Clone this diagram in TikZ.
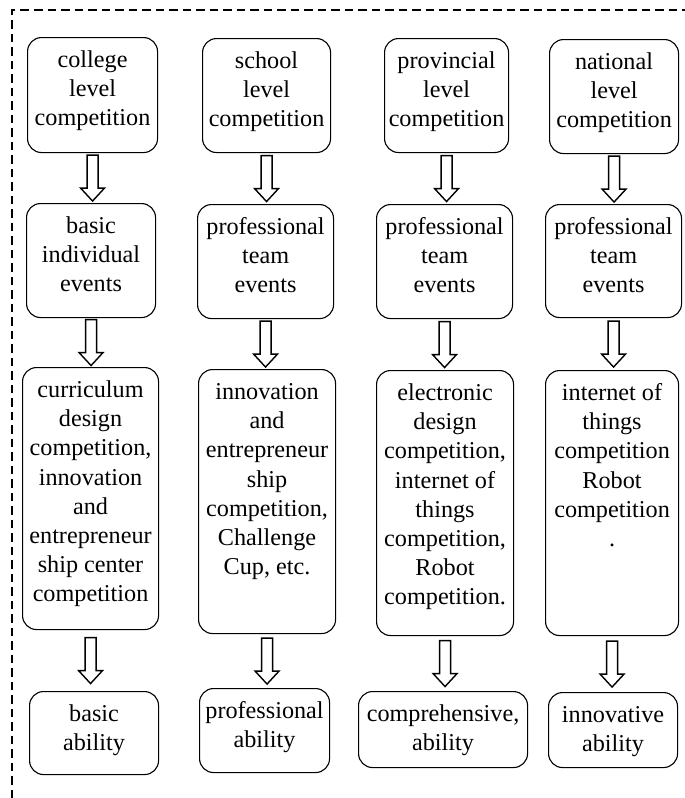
\documentclass[tikz,border=0pt]{standalone}
\usepackage{fontspec}
\setmainfont{Liberation Serif}
\usepackage{tikz}
\usetikzlibrary{calc}

% text of a box: fixed size, lines from the top
\newcommand{\stagetext}[3]{\parbox[c][#2pt][t]{#1pt}{\centering\rule{0pt}{30pt}#3}}
% hollow block arrow between two boxes
\newcommand{\flowarrow}[2]{%
  \draw[blockarrow] let \p1=(#1.south), \p2=(#2.north), \n1={(\y1+\y2)/2} in
    (\x1-5.5pt,\n1+23pt) -- (\x1-5.5pt,\n1-10pt) -- (\x1-12pt,\n1-10pt) -- (\x1,\n1-23pt)
    -- (\x1+12pt,\n1-10pt) -- (\x1+5.5pt,\n1-10pt) -- (\x1+5.5pt,\n1+23pt) -- cycle;}

\begin{document}
\begin{tikzpicture}[x=1pt, y=-1pt,
    stage/.style={draw, line width=1.1pt, rounded corners=14pt, inner sep=0pt, anchor=north west,
      font=\fontsize{24.2}{29.2}\selectfont},
    blockarrow/.style={draw, fill=white, line width=1.4pt, line join=miter},
    frame/.style={line width=2pt, dash pattern=on 8.5pt off 5pt}]
    \useasboundingbox (0,0) rectangle (685,798);
    \draw[frame] (12,798) -- (12,10) -- (685,10);

    % college level
    \node[stage] (c1a) at (27,37)  {\stagetext{130}{115}{college\\level\\competition}};
    \node[stage] (c1b) at (26,203) {\stagetext{129}{114}{basic\\individual\\events}};
    \node[stage] (c1c) at (22,367) {\stagetext{136}{262}{curriculum\\design\\competition,\\innovation\\and\\entrepreneur\\ship center\\competition}};
    \node[stage] (c1d) at (29,691) {\stagetext{129}{83}{basic\\ability}};

    % school level
    \node[stage] (c2a) at (202,38)  {\stagetext{128}{114}{school\\level\\competition}};
    \node[stage] (c2b) at (197,204) {\stagetext{136}{114}{professional\\team\\events}};
    \node[stage] (c2c) at (198,369) {\stagetext{137}{264}{innovation\\and\\entrepreneur\\ship\\competition,\\Challenge\\Cup, etc.}};
    \node[stage] (c2d) at (199,688) {\stagetext{130}{84}{professional\\ability}};

    % provincial level
    \node[stage] (c3a) at (384,38)  {\stagetext{124}{114}{provincial\\level\\competition}};
    \node[stage] (c3b) at (376,204) {\stagetext{136}{114}{professional\\team\\events}};
    \node[stage] (c3c) at (376,370) {\stagetext{137}{265}{electronic\\design\\competition,\\internet of\\things\\competition,\\Robot\\competition.}};
    \node[stage] (c3d) at (358,691) {\stagetext{169}{76}{comprehensive,\\ability}};

    % national level
    \node[stage] (c4a) at (549,39)  {\stagetext{129}{114}{national\\level\\competition}};
    \node[stage] (c4b) at (545,204) {\stagetext{136}{113}{professional\\team\\events}};
    \node[stage] (c4c) at (545,370) {\stagetext{133}{265}{internet of\\things\\competition\\Robot\\competition\\.}};
    \node[stage] (c4d) at (548,692) {\stagetext{129}{75}{innovative\\ability}};

    \flowarrow{c1a}{c1b} \flowarrow{c1b}{c1c} \flowarrow{c1c}{c1d}
    \flowarrow{c2a}{c2b} \flowarrow{c2b}{c2c} \flowarrow{c2c}{c2d}
    \flowarrow{c3a}{c3b} \flowarrow{c3b}{c3c} \flowarrow{c3c}{c3d}
    \flowarrow{c4a}{c4b} \flowarrow{c4b}{c4c} \flowarrow{c4c}{c4d}
\end{tikzpicture}
\end{document}
